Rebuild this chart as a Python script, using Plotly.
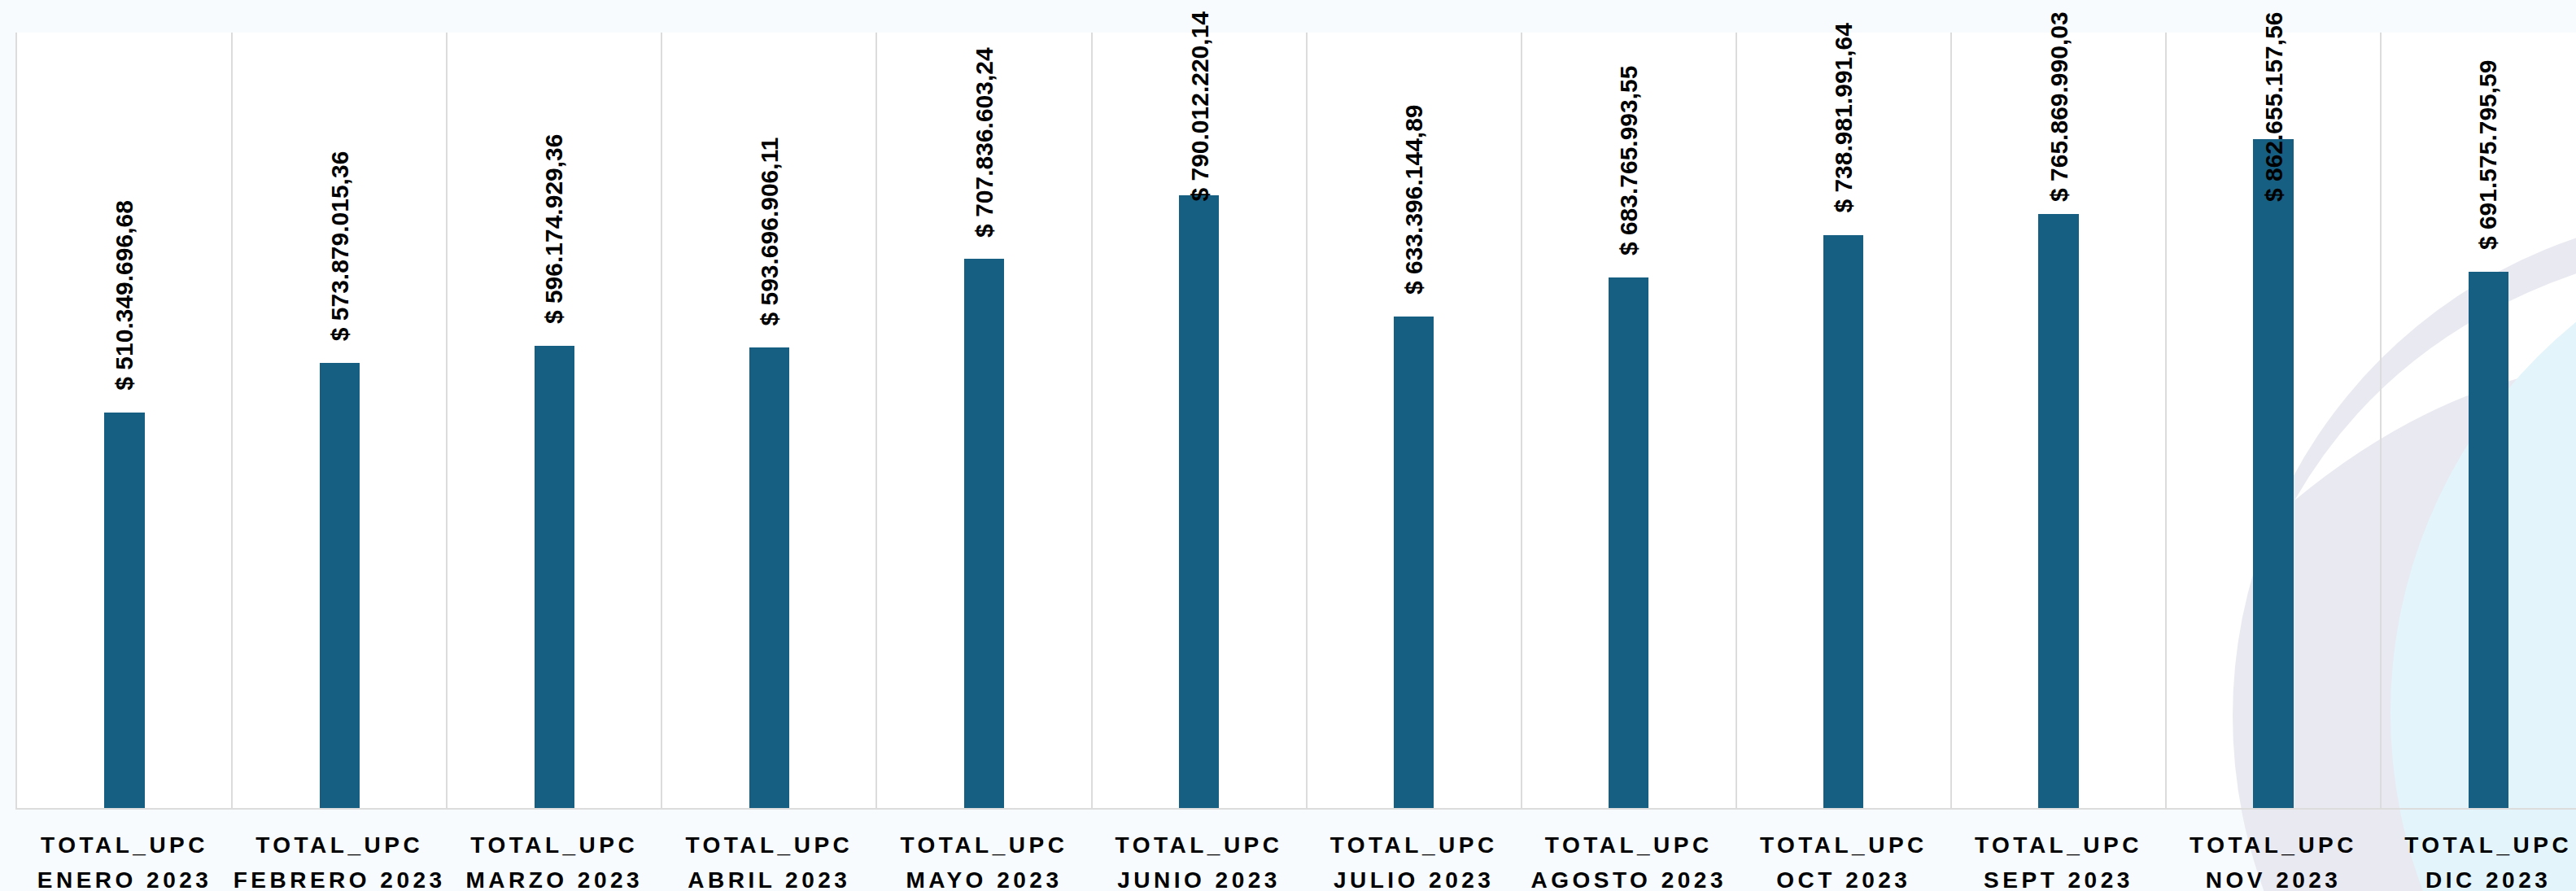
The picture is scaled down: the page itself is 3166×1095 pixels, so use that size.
import plotly.graph_objects as go

# monthly totals (COP)
months = ["ENERO 2023", "FEBRERO 2023", "MARZO 2023", "ABRIL 2023", "MAYO 2023", "JUNIO 2023",
          "JULIO 2023", "AGOSTO 2023", "OCT 2023", "SEPT 2023", "NOV 2023", "DIC 2023"]
series_name = "TOTAL_UPC"
totals = [510349696.68, 573879015.36, 596174929.36, 593696906.11, 707836603.24, 790012220.14,
          633396144.89, 683765993.55, 738981991.64, 765869990.03, 862655157.56, 691575795.59]

W, H = 3166, 1095
M_L, M_T, M_B = 21, 40, 102
plot_w = W - M_L
plot_h = H - M_T - M_B
cat_px = 264.1
y_max = 1e9
bar_color = "#175f82"


def money(v):
    # spanish style thousands / decimals
    s = f"{v:,.2f}".replace(",", "X").replace(".", ",").replace("X", ".")
    return "$ " + s


def tick(m):
    span = '<span style="font-size:28px;letter-spacing:4.5px">{}</span>'
    return span.format(series_name) + "<br>" + span.format(m)


fig = go.Figure()
fig.add_trace(go.Bar(x=months, y=totals, marker_color=bar_color, width=0.186,
                     marker_line_width=0, showlegend=False))

# value labels, pushed down when they would leave the picture
annots = []
txt_len = 233
for m, v in zip(months, totals):
    bar_top = H - M_B - v / y_max * plot_h
    if bar_top - 25 - txt_len < 18:
        annots.append(dict(x=m, y=1 + (M_T - 12) / plot_h, xref="x", yref="paper",
                           text=money(v), showarrow=False, textangle=-90,
                           xanchor="center", yanchor="top",
                           font=dict(family="Arial, Liberation Sans", size=30, color="black", weight="bold")))
    else:
        annots.append(dict(x=m, y=v, xref="x", yref="y", yshift=25,
                           text=money(v), showarrow=False, textangle=-90,
                           xanchor="center", yanchor="bottom",
                           font=dict(family="Arial, Liberation Sans", size=30, color="black", weight="bold")))


def px(x):
    return (x - M_L) / plot_w


def py(y):
    return (H - M_B - y) / plot_h


# background decoration (white plot area, lavender ring, light cyan circle)
shapes = [
    dict(type="rect", xref="paper", yref="paper", x0=0, x1=1, y0=0, y1=1,
         fillcolor="white", line_width=0, layer="below"),
    dict(type="circle", xref="paper", yref="paper",
         x0=px(3364 - 620), x1=px(3364 + 620), y0=py(880 + 620), y1=py(880 - 620),
         fillcolor="#e9e9f1", line_width=0, layer="below"),
    dict(type="path", xref="paper", yref="paper",
         path="M {},{} Q {},{} {},{} L {},{} Q {},{} {},{} Z".format(
             px(2820), py(615), px(2935), py(415), px(3170), py(335),
             px(3170), py(448), px(2985), py(478), px(2820), py(615)),
         fillcolor="white", line_width=0, layer="below"),
    dict(type="circle", xref="paper", yref="paper",
         x0=px(3558 - 620), x1=px(3558 + 620), y0=py(876 + 620), y1=py(876 - 620),
         fillcolor="#e4f4fb", line_width=0, layer="below"),
]

fig.update_layout(
    width=W, height=H,
    margin=dict(l=M_L, r=0, t=M_T, b=M_B, autoexpand=False),
    paper_bgcolor="#f8fbfd",
    plot_bgcolor="rgba(0,0,0,0)",
    annotations=annots,
    shapes=shapes,
    bargap=0,
)
fig.update_xaxes(
    type="category", range=[-0.5, -0.5 + plot_w / cat_px],
    tickmode="array", tickvals=months, ticktext=[tick(m) for m in months],
    tickson="boundaries", ticks="", showgrid=True, gridcolor="#dcdcdc", gridwidth=2,
    showline=True, linecolor="#dcdcdc", linewidth=2,
    tickfont=dict(family="Arial, Liberation Sans", size=33, color="black", weight="bold"),
    tickangle=0, automargin=False,
    ticklabelstandoff=13,
)
fig.update_yaxes(range=[0, y_max], showticklabels=False, showgrid=False, zeroline=False,
                 showline=True, linecolor="#dcdcdc", linewidth=2, automargin=False)

# page body has a default margin, drop it so the figure fills the window
fig.write_html("out.html", config={"displayModeBar": False},
               post_script="document.body.style.margin='0';")
